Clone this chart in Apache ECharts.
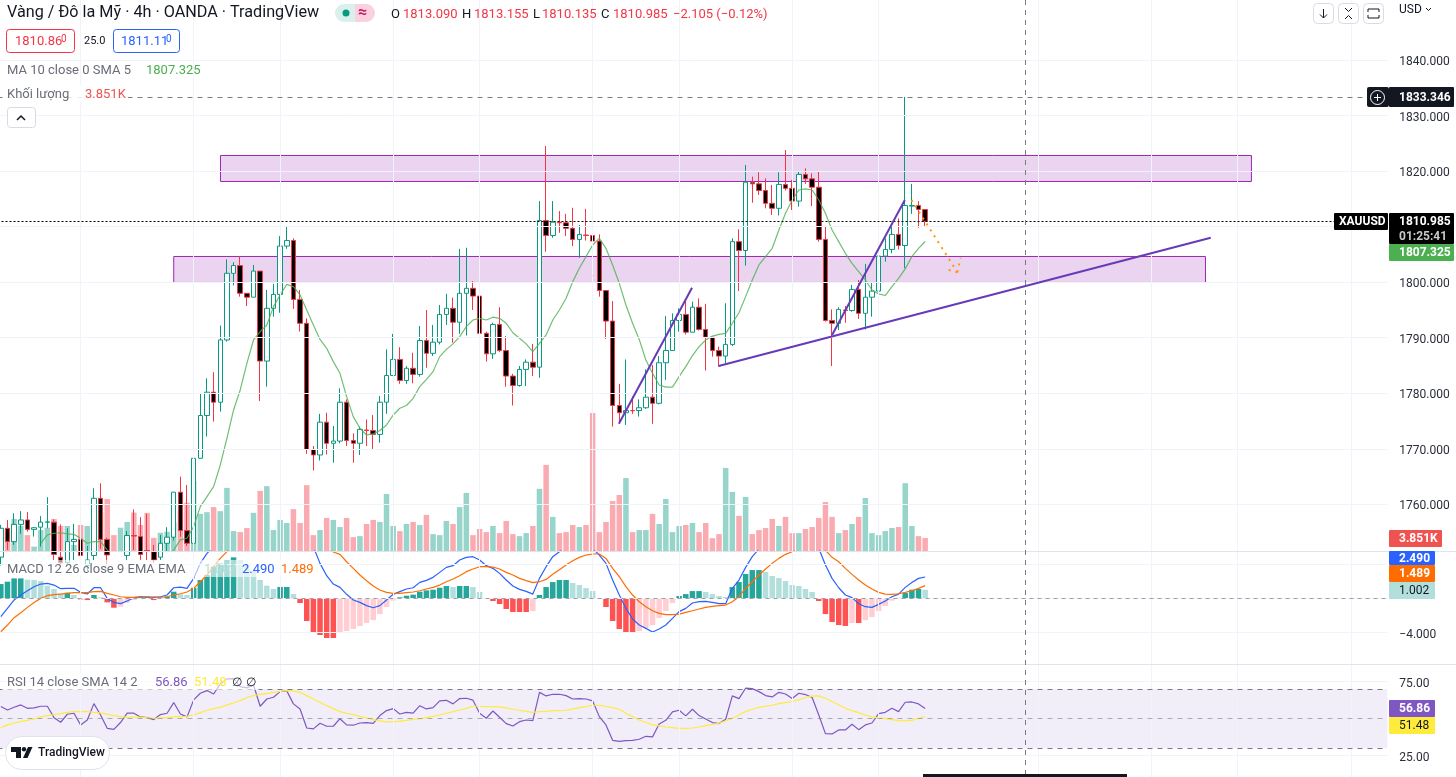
<!DOCTYPE html>
<html>
<head>
<meta charset="utf-8">
<title>XAUUSD 4h</title>
<script src="https://cdn.jsdelivr.net/npm/echarts@6/dist/echarts.min.js"></script>
<style>
	html, body { margin: 0; padding: 0; background: #fff; }
	#main { width: 1456px; height: 777px; }
</style>
</head>
<body>
<div id="main"></div>
<script>
	// gia nen doc tu hinh
	var opens = [1750.5,1755.7,1753.3,1756.4,1757.2,1755.5,1755.9,1756.8,1756.8,1750.5,
		1749.5,1753.3,1753.7,1749,1750.8,1761.1,1753.7,1751,1749.5,1750.8,
		1754.4,1754.2,1751.7,1751.5,1750.5,1753,1754.1,1762.2,1755.3,1753,
		1768.3,1776,1780.2,1778.4,1789.6,1801.6,1803,1798,1797.3,1802,
		1785.8,1795.3,1797.8,1806.5,1807.5,1796.9,1792.6,1769.9,1768.9,1774.8,
		1771,1771.4,1778.4,1771.5,1771,1773.4,1773.3,1772.6,1778.4,1783.2,
		1786.1,1782.3,1784.5,1783.4,1789.5,1787.2,1789.2,1794.2,1795.3,1792.8,
		1798,1798.9,1797.5,1790.8,1787.1,1792.4,1787.7,1783.1,1781.4,1784.3,
		1785.6,1784.7,1811.1,1808.4,1810.8,1810.7,1809.7,1807.7,1808.5,1808.4,
		1807.4,1798.5,1793,1777.8,1776.5,1776.9,1776.9,1777.4,1779.3,1778.2,
		1785.5,1787.7,1793.1,1794.2,1791,1795.5,1791.5,1790.1,1787.7,1786.7,
		1788.8,1807.3,1805.7,1818,1817.7,1816.5,1814.2,1813.3,1817.6,1816.9,
		1814.6,1819.4,1818.6,1817.1,1807.7,1793.1,1792.6,1795,1794.9,1798.7,
		1794.4,1797.3,1798.4,1804.7,1805.9,1808.6,1806.6,1813.7,1813.8,1813.09];
	var closes = [1755.7,1753.3,1756.4,1757.2,1755.5,1755.8,1756.8,1756.85,1751,1749.5,
		1753.3,1753.7,1750.8,1750,1761.1,1753.7,1750.9,1749.5,1750.5,1754.4,
		1754.3,1751,1751.6,1750,1753,1754.1,1762.2,1755.3,1753,1768.3,
		1776,1780.2,1778.4,1789.6,1801.6,1803,1798,1797.3,1802,1785.8,
		1795.3,1797.8,1806.5,1807.5,1796.9,1792.6,1769.9,1768.9,1774.8,1771,
		1771.4,1778.4,1771.5,1771,1773.5,1773.3,1772.6,1778.4,1783.2,1786.1,
		1782.3,1784.5,1783.4,1789.5,1787.2,1789.2,1794.2,1795.3,1792.8,1798,
		1798.9,1797.5,1790.8,1787.1,1792.4,1787.7,1783.1,1781.4,1784.3,1785.6,
		1784.7,1811.1,1808.4,1810.8,1810.7,1809.7,1807.7,1808.6,1808.4,1807.4,
		1798.5,1793,1777.8,1776.5,1776.9,1776.85,1777.4,1779.3,1778.2,1785.5,
		1787.7,1793.1,1794.2,1791,1795.5,1791.5,1790.1,1787.7,1786.7,1788.8,
		1807.3,1805.7,1818,1817.7,1816.5,1814.2,1813.3,1817.6,1816.9,1814.6,
		1819.4,1818.6,1817.1,1807.7,1793.1,1792.6,1795.1,1794.9,1798.7,1794.4,
		1797.3,1798.4,1804.7,1805.9,1808.6,1806.6,1813.8,1813.8,1813.09,1810.985];
	var lows = [1749,1751.8,1752.7,1754.7,1755.1,1754.2,1752.4,1755.7,1750,1749,
		1749,1750,1749,1748,1750,1752,1749,1748,1748,1750,
		1751.8,1750,1750,1749.5,1750,1751.5,1753.5,1754.2,1752.5,1752.5,
		1768.3,1772.2,1774.9,1776.7,1789.3,1799.4,1797.4,1795.7,1797.3,1778.6,
		1781.2,1793.8,1794.5,1806,1795.2,1791.1,1769.1,1766.1,1767.9,1769,
		1767.5,1771,1770.5,1767.5,1768.9,1770.5,1769.8,1771.1,1776.3,1783.1,
		1781.7,1781.7,1781.8,1783,1784.6,1786.7,1788.8,1792.3,1789.1,1790.7,
		1790.4,1795,1790,1785.7,1786.2,1787.4,1781.2,1777.8,1781.2,1781.3,
		1783.1,1782.8,1805.5,1808,1808.9,1808.3,1806.5,1804.4,1807.5,1795.6,
		1797.4,1789.8,1774,1774.7,1774.3,1776.3,1775.8,1777.2,1774.5,1778,
		1782.4,1787.7,1791.1,1790.6,1791,1791.3,1784.1,1786.6,1784.8,1785.4,
		1788.5,1798.4,1803,1814.3,1815.7,1813.3,1812.1,1812,1816.5,1813,
		1813.6,1817.7,1813.7,1807.3,1792.9,1784.9,1791.4,1792.7,1794.7,1793.4,
		1791.5,1793.8,1798.4,1803.7,1805.2,1805.9,1802.5,1812.3,1809.8,1810.135];
	var highs = [1756.3,1757.2,1758.4,1758.8,1758.6,1755.9,1757.9,1761.3,1757.3,1756.4,
		1755.7,1756.5,1754.8,1752.5,1762.9,1763.8,1754,1751,1751,1755.2,
		1759.1,1757.7,1758.3,1752.7,1754.5,1755.9,1762.2,1765,1763.5,1770.1,
		1780,1782.7,1783.8,1792.2,1804.1,1803.6,1804.7,1798,1803.1,1802,
		1798.6,1799.7,1808.3,1810.1,1807.9,1798.6,1793.5,1770.5,1776.3,1776.5,
		1774.1,1780.9,1778.9,1772.8,1774,1775.3,1776.1,1779.5,1787.9,1790.7,
		1788.3,1784.9,1787.3,1792.1,1795,1792.3,1795.9,1797.9,1797.2,1806,
		1806.2,1800.2,1797.5,1791.1,1792.7,1795.5,1790.3,1783.5,1784.9,1786.1,
		1788.9,1814.6,1824.5,1814.6,1812.8,1812.3,1813.4,1810.3,1813.2,1814.3,
		1808.6,1798.6,1796.6,1781.7,1786.1,1779.4,1778.9,1784.3,1785.1,1786.7,
		1793.9,1794.4,1795.3,1796.9,1796.5,1797.1,1796.1,1790.1,1788.4,1796.2,
		1807.9,1809.5,1821.1,1819,1819.8,1818.7,1817.5,1819.8,1823.8,1818.4,
		1819.9,1820.5,1819.6,1820,1810.1,1795.1,1795.5,1795.7,1799.5,1800.4,
		1803.3,1799.9,1804.7,1807.9,1810,1811.5,1833.346,1817.7,1814.6,1813.155];
	// khoi luong, don vi K
	var volumes = [6.7,6.7,9.5,7.5,4.7,1.3,6.2,6.9,9.5,7.4,
		7.4,1.8,7.7,7.4,11,11.4,15.4,4.7,6.9,8.6,
		11.4,7.7,11.3,3.9,5.4,5.7,8.4,11.8,14.3,20.7,
		11,11.5,13,11.8,18.7,5.9,5.6,6.8,11.3,17.8,
		19.2,6.2,9.2,8.3,12.4,8.3,19.5,4.7,6.2,9.8,
		9.2,7.1,9.8,4.1,4.4,8,9.2,8.6,16.9,7.4,
		5.9,8,8.6,7.7,10.7,5,4.7,8.9,8,13,
		17.2,4.7,6.5,5.6,7.4,5.3,8.9,5,4.4,5.3,
		7.4,18.4,25.5,10.1,5.3,5.6,7.7,7.1,7.7,40.9,
		5.6,8.6,14.8,16.6,21.6,5.6,6.2,6.2,11,8,
		15.4,5.6,7.4,7.7,8.3,5.6,8.3,3.8,5,24.6,
		17.5,10.4,16,5,6.2,6.8,9.5,7.4,10.1,5.3,
		5.3,6.5,7.1,9.8,14.5,10.1,5.3,6.2,8,10.1,
		15.7,5.3,4.7,5.9,6.8,7.1,20.1,7.4,4.4,3.851];
	var maValues = [null,null,null,null,null,null,1753,1754.5,1754.8,1754.9,
		1754.7,1754.6,1753.9,1753,1753.3,1753.3,1751.8,1750.4,1749.8,1749.5,
		1749.3,1749.2,1749.4,1749.6,1749.8,1750.5,1751.8,1753.6,1753.9,1756,
		1759.6,1761.4,1763.2,1767.1,1771.9,1777,1780.6,1785.4,1789.6,1791.1,
		1792.3,1795.6,1797.7,1799.6,1799.2,1797.7,1795,1792.3,1789.7,1788.1,
		1785.7,1783.6,1779.4,1775.8,1773.7,1772.5,1772.7,1773.3,1774.3,1776.1,
		1777.3,1777.8,1779.1,1781.2,1782.5,1783.9,1786.6,1787.9,1788.9,1790.2,
		1792,1793.2,1793.5,1793.2,1793.7,1793.5,1792.6,1790.9,1789.9,1788.9,
		1787.5,1789,1790.5,1793.2,1795,1797.1,1800.1,1802.5,1804.6,1806.7,
		1807.9,1806.1,1803.1,1799.8,1795.9,1792.6,1789.7,1786,1783.6,1781.5,
		1781.1,1781.1,1783,1784.8,1786.8,1788.4,1789.6,1790.3,1790.6,1790.8,
		1792.6,1794.5,1797.4,1800.4,1803.1,1804.6,1806.1,1809.4,1812.4,1814.8,
		1816.6,1816.8,1816.6,1814.8,1812.4,1809.4,1807.3,1805.2,1803.4,1801.9,
		1800.4,1798.6,1797.9,1797.6,1799.2,1800.7,1802.4,1804.6,1806.1,1807.325];
	var macdLine = [-2.14,-1.17,-0.19,0.39,0.89,1.36,1.67,1.75,1.55,1.13,
		1.17,1.17,0.7,0.51,1.24,1.24,0,-0.47,-0.62,-0.31,
		0.08,0.19,0.16,0.12,0.19,0.39,1.24,1.32,1.17,2.33,
		4.08,5.24,6,7.5,9,10.5,11.2,11.4,11.4,11,
		10.9,11,11.5,12,11.8,10.2,8,6,4.08,2.64,
		1.67,1.28,0.47,-0.19,-0.47,-0.85,-1.09,-0.85,-0.19,0.47,
		0.78,1.09,1.24,1.86,2.1,2.45,3.03,3.61,3.81,4.47,
		4.78,4.86,4.47,3.81,3.5,2.91,2.14,1.44,1.05,0.82,
		0.5,2.33,3.69,4.86,5.44,6.2,6.8,7.2,7.5,5.8,
		5.05,4.08,2.14,0.39,-1.17,-2.41,-3.11,-3.5,-3.92,-3.57,
		-3.11,-2.33,-1.55,-1.17,-0.54,-0.39,-0.35,-0.47,-0.62,-0.62,
		1.17,2.14,3.61,4.86,5.75,6.8,7.6,8.2,8.8,8.8,
		9,8.8,7.7,5.83,3.89,2.33,1.24,0.39,0.08,-0.62,
		-0.97,-1.05,-0.7,-0.31,0.19,0.5,1.28,1.86,2.33,2.49];
	var signalLine = [-3.89,-3.11,-2.25,-1.67,-1.05,-0.47,0,0.31,0.43,0.5,
		0.58,0.66,0.66,0.66,0.78,0.82,0.58,0.39,0.19,0.12,
		0.12,0.16,0.16,0.16,0.16,0.19,0.39,0.54,0.74,1.17,
		1.94,2.72,3.69,4.66,5.44,6.5,7.5,8.4,9,9.5,
		9.9,10,10.2,10.3,10.4,10.4,10.1,9.3,7.8,6.2,
		5.4,5.13,4.27,3.5,2.72,2.06,1.44,0.97,0.7,0.58,
		0.58,0.66,0.74,0.89,1.09,1.28,1.55,1.94,2.25,2.64,
		3.11,3.42,3.69,3.69,3.65,3.42,3.03,2.72,2.33,2.06,
		1.83,1.94,2.21,2.8,3.34,3.89,4.39,4.78,5.05,5.17,
		5.17,4.66,3.5,2.53,1.36,0.39,-0.39,-0.97,-1.44,-1.75,
		-1.9,-1.9,-1.83,-1.63,-1.44,-1.24,-1.05,-0.93,-0.85,-0.78,
		-0.39,0.19,1.17,1.94,2.72,3.42,4.08,4.66,5.13,5.44,
		6,6.6,7,7,5.6,4.78,4.27,3.5,2.8,2.14,
		1.55,1.09,0.7,0.5,0.47,0.54,0.7,0.89,1.17,1.489];
	var macdHist = [1.67,1.94,2.33,2.33,2.18,2.14,2.02,1.48,1.09,0.58,
		0.66,0.39,-0.12,-0.2,0.39,0.12,-0.47,-1.09,-0.97,-0.5,
		-0.2,0.2,0.2,-0.2,0.1,0.2,0.78,0.47,0.39,1.24,
		2.14,2.72,3.69,4.08,4.47,4.78,4.47,3.9,3.2,2.14,
		1.48,1.09,1.33,1.33,0.5,-0.54,-2.64,-3.92,-4.27,-4.62,
		-4.62,-3.96,-3.81,-3.57,-3.22,-2.87,-2.53,-1.83,-1.01,-0.27,
		0.12,0.31,0.43,0.78,0.93,1.01,1.24,1.44,1.32,1.44,
		1.44,1.32,0.74,0.03,-0.31,-0.66,-1.24,-1.59,-1.59,-1.59,
		-1.48,0.39,1.32,1.9,2.14,2.14,1.79,1.55,1.2,0.85,
		0.02,-1.01,-2.64,-3.57,-3.92,-4.04,-3.81,-3.46,-3.11,-2.29,
		-1.48,-0.54,0.27,0.5,0.85,0.85,0.74,0.5,0.27,0.16,
		1.32,1.9,2.84,3.3,3.3,3.07,2.6,2.37,2.02,1.55,
		1.44,1.09,0.74,-0.31,-1.83,-2.76,-3.11,-3.22,-2.87,-2.87,
		-2.53,-2.18,-1.48,-0.89,-0.27,0.05,0.62,1.01,1.09,1.002];
	var rsiValues = [58.2,55.9,57.7,59.3,57,57.3,58.4,58.4,50.7,47.6,
		53,53.7,45.8,49.1,60.2,52.5,43.5,42.8,47.4,53.7,
		53.7,51.2,50.7,49.4,52.8,53.7,60.9,53.2,51.2,62.7,
		67.2,69,66.7,73.5,76.9,77.1,71.7,70.8,72.8,58.4,
		63.3,64.5,68.3,68.8,60,56.6,43.7,43.1,46.9,44.9,
		44.9,50,45.8,45.6,47.1,47.4,46.9,52.1,55.5,56.8,
		53.2,54.3,53.7,58.8,56.6,57.5,62,62.4,60,63.6,
		63.8,62.5,53.7,50.3,55.2,51,46.7,45.1,48,49.1,
		48.7,67.8,65.4,66.5,66.5,65.6,63.3,63.6,63.3,62,
		51.4,45.8,35.4,34.7,35.2,35.4,36.1,38.1,37.7,46.4,
		48.9,54.6,55.7,51.9,56.4,52.1,49.8,47.4,46.7,49.6,
		65.4,63.6,70.6,70.3,68.3,65.6,64.7,67.8,66.7,63.6,
		67.2,66.3,64.3,52.5,39.9,39.7,42.4,42.4,46.2,42.6,
		45.8,47.1,53.4,54.3,57,54.8,61.1,61.3,60,56.86];
	var rsiMa = [44,45.8,47.1,48,48.9,49.8,51.2,52.1,52.8,53.4,
		54.3,54.8,54.8,54.8,54.3,53.9,53,52.1,51.4,51,
		51,51,50.5,50.3,50.5,50.7,51.2,51.4,51.6,52.5,
		54.1,55.7,56.8,57.7,59.3,60.6,62.2,64.3,65.6,66.5,
		66.9,67.8,68.5,69,68.8,67.8,65.6,63.3,61.1,58.8,
		56.8,54.8,53.7,52.8,51.6,50.5,49.4,48.5,47.8,47.8,
		48.3,48.9,49.6,49.8,50.7,51.6,52.5,53.7,54.8,55.9,
		57,58.4,58.4,58.2,58.2,58,57.3,56.4,55.7,55,
		54.3,54.8,55,55.5,55.5,55.7,56.6,57.5,58.2,59.1,
		59.1,58.4,57.5,56.4,53.7,51.4,49.1,47.4,45.8,45.1,
		44.4,44,43.5,43.5,43.7,44.4,45.3,46.2,46.9,48.5,
		50.3,52.5,54.8,56.4,57.7,58.4,59.1,60.2,60.9,61.6,
		62.7,64.3,65.2,65.4,63.8,61.6,59.3,57,55.5,54.1,
		52.5,51.2,50.5,50,49.4,48.7,48.5,48.9,50.3,51.48];

	// duong ve tay tren chart: [so thu tu nen, gia]
	var trendA = [[92.94, 1774.5], [103.94, 1799]];
	var trendB = [[107.94, 1784.9], [181.94, 1808]];
	var trendC = [[125, 1790.5], [135.94, 1814.8]];
	var arrowMain = [[136.94, 1814.8], [143.84, 1801.8]];
	var arrowWingA = [[143.84, 1801.8], [144.34, 1804.4]];
	var arrowWingB = [[143.84, 1801.8], [141.94, 1802.4]];
	var zoneTop = [33.03, 188.06, 1822.81, 1818.13];
	var zoneBottom = [26, 181.15, 1804.63, 1799.95];

	var priceTicks = [1760, 1770, 1780, 1790, 1800, 1810, 1820, 1830, 1840];
	var macdTicks = [-4, 0, 4];
	var rsiTicks = [25, 75];
	var rsiBands = [30, 50, 70];
	var timeGridBars = [12, 29, 42, 59, 72, 89, 102, 119, 132, 156, 173, 186, 203];
	var lastClose = 1810.985;
	var sessionHigh = 1833.346;

	// 209 o, moi o 6.65px, nen dau tien sat mep trai
	var categories = [];
	for (var n = 0; n < 209; n++) {
		categories.push(String(n));
	}

	var FONT = 'Roboto, sans-serif';
	var UP = '#089981';
	var DOWN = '#F23645';
	var GRID_COLOR = '#F0F3FA';

	var candleData = opens.map(function (o, i) {
		return [o, closes[i], lows[i], highs[i]];
	});
	var volumeData = volumes.map(function (v, i) {
		return {
			value: v,
			itemStyle: { color: closes[i] >= opens[i] ? 'rgba(8,153,129,0.42)' : 'rgba(242,54,69,0.42)' }
		};
	});
	var histData = macdHist.map(function (v, i) {
		var prev = i > 0 ? macdHist[i - 1] : 0;
		var color;
		if (v >= 0) {
			color = v >= prev ? '#26A69A' : '#B2DFDB';
		} else {
			color = v <= prev ? '#FF5252' : '#FFCDD2';
		}
		return { value: v, itemStyle: { color: color } };
	});

	function hLines(values, style) {
		return values.map(function (v) {
			return { yAxis: v, lineStyle: style };
		});
	}

	function vGridSeries(x, y) {
		return {
			type: 'line', xAxisIndex: x, yAxisIndex: y, data: [], z: 0, silent: true,
			markLine: {
				silent: true, symbol: 'none', animation: false, label: { show: false },
				data: timeGridBars.map(function (b) {
					return { xAxis: b, lineStyle: { color: GRID_COLOR, width: 1, type: 'solid' } };
				})
			}
		};
	}

	function hGridSeries(x, y, lines) {
		return {
			type: 'line', xAxisIndex: x, yAxisIndex: y, data: [], z: 0, silent: true,
			markLine: { silent: true, symbol: 'none', animation: false, label: { show: false }, data: lines }
		};
	}

	function drawing(points, color, width, type) {
		return {
			type: 'line', xAxisIndex: 3, yAxisIndex: 0, data: points, z: 8, silent: true,
			symbol: 'none', animation: false,
			lineStyle: { color: color, width: width, type: type || 'solid' }
		};
	}

	function zone(z) {
		return [{ coord: [z[0], z[2]] }, { coord: [z[1], z[3]] }];
	}

	function valueAxis(grid, min, max, ticks, digits) {
		return {
			type: 'value', gridIndex: grid, position: 'right', min: min, max: max, scale: true,
			axisLine: { show: false }, axisTick: { show: false }, splitLine: { show: false },
			axisLabel: {
				customValues: ticks, margin: 12, color: '#2A2E39', fontSize: 12, fontFamily: FONT,
				// ha chu xuong 1-2px cho khop duong luoi
				verticalAlign: 'top', lineHeight: 4,
				formatter: function (v) { return v.toFixed(digits).replace('-', '\u2212'); }
			}
		};
	}

	// chu, khung, nhan gia ben phai
	function txt(x, y, text, color, size, weight) {
		return {
			type: 'text', z: 110,
			style: {
				x: x, y: y, text: text, fill: color, verticalAlign: 'middle',
				font: (weight || 'normal') + ' ' + (size || 14) + 'px ' + FONT
			}
		};
	}
	function box(x, y, w, h, fill, stroke, r) {
		return {
			type: 'rect', z: 105,
			shape: { x: x, y: y, width: w, height: h, r: r || 0 },
			style: { fill: fill, stroke: stroke || null, lineWidth: 1 }
		};
	}
	function tag(x, y, w, h, fill, text, color, weight) {
		return [box(x, y, w, h, fill, null, 1), txt(x + (x < 1389 ? 5 : 10), y + h / 2 + 0.5, text, color, 12, weight || 'bold')];
	}
	function stroke(points, color, width) {
		return {
			type: 'polyline', z: 111, shape: { points: points },
			style: { stroke: color, lineWidth: width || 1, fill: null }
		};
	}

	var chrome = [
		// chu tren cung
		txt(7, 13, 'Vàng / Đô la Mỹ · 4h · OANDA · TradingView', '#131722', 16.2),
		box(335, 4, 20, 18, '#D9F0EC', null, [9, 0, 0, 9]),
		box(355, 4, 20, 18, '#FBD0DF', null, [0, 9, 9, 0]),
		{ type: 'circle', z: 110, shape: { cx: 346, cy: 13, r: 3.5 }, style: { fill: UP } },
		txt(358, 13, '≈', '#C2185B', 16, 'bold'),
		txt(391, 14.5, 'O', '#131722', 13), txt(403, 14.5, '1813.090', DOWN, 13),
		txt(462, 14.5, 'H', '#131722', 13), txt(474, 14.5, '1813.155', DOWN, 13),
		txt(533, 14.5, 'L', '#131722', 13), txt(542, 14.5, '1810.135', DOWN, 13),
		txt(601, 14.5, 'C', '#131722', 13), txt(613, 14.5, '1810.985', DOWN, 13),
		txt(673, 14.5, '\u22122.105 (\u22120.12%)', DOWN, 13),
		box(6.5, 29.5, 68, 23, '#fff', DOWN, 3),
		txt(15, 42, '1810.86', DOWN, 13), txt(61, 39, '0', DOWN, 10),
		txt(84, 41, '25.0', '#131722', 11),
		box(113.5, 29.5, 66, 23, '#fff', '#2962FF', 3),
		txt(121, 42, '1811.11', '#2962FF', 13), txt(166, 39, '0', '#2962FF', 10),
		txt(7, 70.5, 'MA 10 close 0 SMA 5', '#6A6D78', 13),
		txt(146, 70.5, '1807.325', '#4CAF50', 13),
		box(4, 85, 124, 17, 'rgba(255,255,255,0.85)'),
		txt(7, 94.5, 'Khối lượng', '#6A6D78', 13),
		txt(85, 94.5, '3.851K', '#EF5350', 13),
		box(7.5, 107.5, 28, 20, '#fff', '#D9DBE3', 3),
		stroke([[17, 120], [21, 116], [25, 120]], '#131722', 1.5),

		// nut goc phai tren
		box(1313.5, 3.5, 20, 20, '#fff', '#D9DBE3', 4),
		stroke([[1323.5, 9], [1323.5, 18]], '#131722'),
		stroke([[1320, 14.5], [1323.5, 18], [1327, 14.5]], '#131722'),
		box(1338.5, 3.5, 20, 20, '#fff', '#D9DBE3', 4),
		stroke([[1345, 8], [1348.5, 11.5], [1352, 8]], '#131722'),
		stroke([[1345, 19], [1348.5, 15.5], [1352, 19]], '#131722'),
		box(1363.5, 3.5, 20, 20, '#fff', '#D9DBE3', 4),
		stroke([[1368, 12], [1368, 9], [1379, 9], [1379, 12]], '#131722'),
		stroke([[1368, 15], [1368, 18], [1379, 18], [1379, 15]], '#131722'),
		txt(1399, 10, 'USD', '#131722', 12),
		stroke([[1426, 8], [1428.5, 10.5], [1431, 8]], '#131722'),

		// duong vien giua cac pane
		{ type: 'line', z: 20, shape: { x1: 0, y1: 551.5, x2: 1456, y2: 551.5 }, style: { stroke: '#E0E3EB', lineWidth: 1 } },
		{ type: 'line', z: 20, shape: { x1: 0, y1: 664.5, x2: 1456, y2: 664.5 }, style: { stroke: '#E0E3EB', lineWidth: 1 } },
		{ type: 'line', z: 30, shape: { x1: 1025.5, y1: 0, x2: 1025.5, y2: 777 }, style: { stroke: '#787B86', lineWidth: 1, lineDash: [5, 5] } },

		// nhan gia
		box(1367, 87, 22, 20, '#131722', null, 2),
		{ type: 'circle', z: 110, shape: { cx: 1377.5, cy: 97.5, r: 7 }, style: { fill: null, stroke: '#fff', lineWidth: 1 } },
		stroke([[1374, 97.5], [1381, 97.5]], '#fff'),
		stroke([[1377.5, 94], [1377.5, 101]], '#fff')
	];
	chrome = chrome.concat(
		tag(1389, 87, 65, 20, '#131722', '1833.346', '#fff'),
		tag(1334, 213, 54, 17, '#000', 'XAUUSD', '#fff'),
		tag(1389, 213, 65, 31, '#000', '', '#fff'),
		[txt(1399, 222, '1810.985', '#fff', 12, 'bold'), txt(1399, 236.5, '01:25:41', '#C8C8C8', 12, 'bold')],
		tag(1389, 244, 65, 17, '#4CAF50', '1807.325', '#fff'),
		tag(1389, 530, 53, 17, '#EF5350', '3.851K', '#fff'),
		tag(1389, 551, 46, 14, '#2962FF', '2.490', '#fff'),
		tag(1389, 565, 46, 17, '#FF6D00', '1.489', '#fff'),
		tag(1389, 582, 46, 17, '#B2DFDB', '1.002', '#131722', 'normal'),
		tag(1389, 700, 46, 17, '#7E57C2', '56.86', '#fff'),
		tag(1389, 717, 46, 17, '#FFEB3B', '51.48', '#131722', 'normal')
	);
	chrome = chrome.concat([
		// legend MACD, RSI
		box(4, 560, 314, 17, 'rgba(255,255,255,0.6)'),
		txt(7, 569.5, 'MACD 12 26 close 9 EMA EMA', '#6A6D78', 13),
		txt(204, 569.5, '1.002', '#B2DFDB', 13),
		txt(242, 569.5, '2.490', '#2962FF', 13),
		txt(281, 569.5, '1.489', '#FF6D00', 13),
		box(4, 673, 255, 17, 'rgba(255,255,255,0.6)'),
		txt(7, 682.5, 'RSI 14 close SMA 14 2', '#6A6D78', 13),
		txt(155, 682.5, '56.86', '#7E57C2', 13),
		txt(194, 682.5, '51.48', '#FFEB3B', 13),
		txt(232, 682.5, '∅', '#131722', 12),
		txt(246, 682.5, '∅', '#131722', 12),

		// logo
		box(5.5, 736.5, 104, 33, '#fff', '#E0E3EB', 16),
		{ type: 'polygon', z: 110, shape: { points: [[11, 747], [21, 747], [21, 758], [16, 758], [16, 752], [11, 752]] }, style: { fill: '#131722' } },
		{ type: 'circle', z: 110, shape: { cx: 24, cy: 749.2, r: 2.2 }, style: { fill: '#131722' } },
		{ type: 'polygon', z: 110, shape: { points: [[28, 747], [32.5, 747], [27.5, 758], [23, 758]] }, style: { fill: '#131722' } },
		txt(38, 753, 'TradingView', '#131722', 12, '500'),
		box(923, 774, 204, 3, '#131722')
	]);

	var gridBase = { left: -2.5, width: 1389.85, outerBoundsMode: 'none' };

	var option = {
		backgroundColor: '#fff',
		animation: false,
		grid: [
			Object.assign({ top: 0, height: 551 }, gridBase),
			Object.assign({ top: 551, height: 113 }, gridBase),
			Object.assign({ top: 664, height: 113 }, gridBase)
		],
		xAxis: [
			{ type: 'category', gridIndex: 0, data: categories, show: false },
			{ type: 'category', gridIndex: 1, data: categories, show: false },
			{ type: 'category', gridIndex: 2, data: categories, show: false },
			{ type: 'value', gridIndex: 0, min: -0.5, max: 208.5, show: false }
		],
		yAxis: [
			valueAxis(0, 1751.61, 1850.8, priceTicks, 3),
			{ type: 'value', gridIndex: 0, min: 0, max: 163.2, show: false },
			valueAxis(1, -7.65, 5.52, [-4], 3),
			valueAxis(2, 10.6, 86.96, rsiTicks, 2)
		],
		graphic: { elements: chrome },
		series: [
			vGridSeries(0, 0),
			vGridSeries(1, 2),
			vGridSeries(2, 3),
			hGridSeries(0, 0, hLines(priceTicks, { color: GRID_COLOR, width: 1, type: 'solid' })),
			hGridSeries(1, 2, hLines(macdTicks, { color: GRID_COLOR, width: 1, type: 'solid' })),
			hGridSeries(2, 3, hLines(rsiTicks, { color: GRID_COLOR, width: 1, type: 'solid' })),
			{
				name: 'Volume', type: 'bar', xAxisIndex: 0, yAxisIndex: 1,
				data: volumeData, barWidth: 5.5, z: 1, silent: true
			},
			{
				name: 'XAUUSD', type: 'candlestick', xAxisIndex: 0, yAxisIndex: 0,
				data: candleData, barWidth: 5, z: 3, silent: true,
				itemStyle: { color: '#fff', color0: '#000', borderColor: UP, borderColor0: DOWN, borderWidth: 1 }
			},
			{
				name: 'MA', type: 'line', xAxisIndex: 0, yAxisIndex: 0, data: maValues, z: 4,
				symbol: 'none', silent: true, connectNulls: false,
				lineStyle: { color: 'rgba(76,175,80,0.8)', width: 1.2 }
			},
			{
				// hai vung mau tim de len tren nen
				type: 'line', xAxisIndex: 3, yAxisIndex: 0, data: [], z: 6, silent: true,
				markArea: {
					silent: true, animation: false,
					itemStyle: { color: 'rgba(156,39,176,0.2)', borderColor: '#9C27B0', borderWidth: 1 },
					data: [zone(zoneTop), zone(zoneBottom)]
				},
				markLine: {
					silent: true, symbol: 'none', animation: false, label: { show: false },
					data: [
						{ yAxis: lastClose, lineStyle: { color: '#000', width: 1, type: [2, 2] } },
						{ yAxis: sessionHigh, lineStyle: { color: '#787B86', width: 1, type: [5, 5] } }
					]
				}
			},
			drawing(trendA, '#673AB7', 2),
			drawing(trendB, '#673AB7', 2),
			drawing(trendC, '#673AB7', 2),
			drawing(arrowMain, '#FF9800', 2, [2, 5]),
			drawing(arrowWingA, '#FF9800', 2, [2, 5]),
			drawing(arrowWingB, '#FF9800', 2, [2, 5]),
			{
				name: 'Hist', type: 'bar', xAxisIndex: 1, yAxisIndex: 2,
				data: histData, barWidth: 5.5, z: 2, silent: true
			},
			{
				name: 'MACD', type: 'line', xAxisIndex: 1, yAxisIndex: 2, data: macdLine, z: 4,
				symbol: 'none', silent: true, lineStyle: { color: '#2962FF', width: 1.2 }
			},
			{
				name: 'Signal', type: 'line', xAxisIndex: 1, yAxisIndex: 2, data: signalLine, z: 4,
				symbol: 'none', silent: true, lineStyle: { color: '#FF6D00', width: 1.2 }
			},
			{
				type: 'line', xAxisIndex: 1, yAxisIndex: 2, data: [], z: 3, silent: true,
				markLine: {
					silent: true, symbol: 'none', animation: false, label: { show: false },
					data: [{ yAxis: 0, lineStyle: { color: 'rgba(120,123,134,0.7)', width: 1, type: [4, 4] } }]
				}
			},
			{
				type: 'line', xAxisIndex: 2, yAxisIndex: 3, data: [], z: 1, silent: true,
				markArea: {
					silent: true, animation: false, itemStyle: { color: 'rgba(126,87,194,0.1)' },
					data: [[{ yAxis: rsiBands[2] }, { yAxis: rsiBands[0] }]]
				},
				markLine: {
					silent: true, symbol: 'none', animation: false, label: { show: false },
					data: [
						{ yAxis: rsiBands[2], lineStyle: { color: '#787B86', width: 1, type: [5, 5] } },
						{ yAxis: rsiBands[1], lineStyle: { color: 'rgba(120,123,134,0.6)', width: 1, type: [5, 5] } },
						{ yAxis: rsiBands[0], lineStyle: { color: '#787B86', width: 1, type: [5, 5] } }
					]
				}
			},
			{
				name: 'RSI', type: 'line', xAxisIndex: 2, yAxisIndex: 3, data: rsiValues, z: 4,
				symbol: 'none', silent: true, lineStyle: { color: '#7E57C2', width: 1.2 }
			},
			{
				name: 'RSI MA', type: 'line', xAxisIndex: 2, yAxisIndex: 3, data: rsiMa, z: 4,
				symbol: 'none', silent: true, lineStyle: { color: '#FFEB3B', width: 1.2 }
			}
		]
	};

	var chart = echarts.init(document.getElementById('main'), null, { renderer: 'canvas' });
	chart.setOption(option);
</script>
</body>
</html>
